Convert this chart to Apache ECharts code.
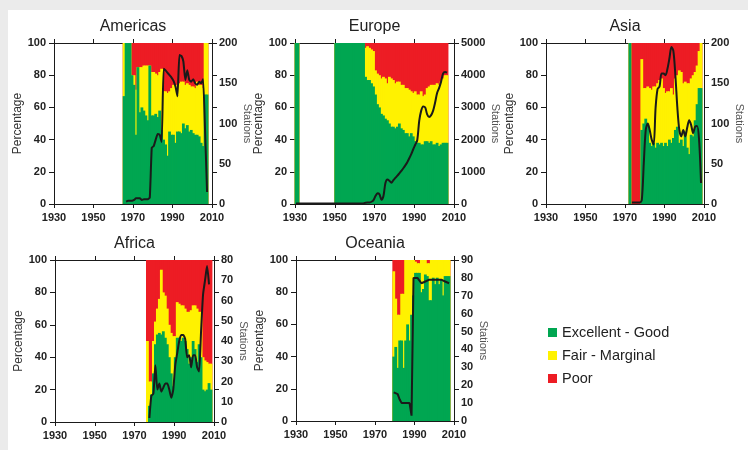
<!DOCTYPE html>
<html><head><meta charset="utf-8">
<script src="https://cdn.jsdelivr.net/npm/echarts@6/dist/echarts.min.js"></script>
<style>html,body{margin:0;padding:0;background:#fff}#c{width:748px;height:450px}</style>
</head><body><div id="c"></div>
<script>
// ---------- DATA ----------
const xTickLabels = [1930, 1950, 1970, 1990, 2010];
const pctTickLabels = [0, 20, 40, 60, 80, 100];
const legendNames = ['Excellent - Good', 'Fair - Marginal', 'Poor'];

// Americas: bars 1965..2007, line 1966..2007, stations axis 0..200 step 50
const americasBarStart = 1965;
const americasGood = [67,100,100,100,80,74,43,85,57,60,58,55,52,86,55,55,56,54,58,46,40,37,30,45,43,43,38,45,45,44,50,47,49,45,46,44,43,43,42,38,36,68,68];
const americasGoodFairTop = [100,100,100,100,80,80,71,85,85,85,86,86,86,86,82,82,81,80,82,84,70,70,69,70,72,74,73,74,75,76,76,74,75,74,73,73,72,76,74,74,72,100,100];
const americasLineStart = 1966;
const americasStations = [3,4,4,4,5,7,7,7,5,6,6,6,8,70,72,80,87,86,77,168,166,163,160,157,153,146,134,185,184,177,154,166,154,152,155,150,148,152,150,155,90,15];
const americasStationTicks = [0, 50, 100, 150, 200];

// Europe: bars 1930..2006 (null = no data), line 1930..2006, axis 0..5000 step 1000
const europeBarStart = 1930;
const europeGood = [100,100,
  null,null,null,null,null,null,null,null,null,null,null,null,null,null,null,null,null,null,
  100,100,100,100,100,100,100,100,100,100,100,100,100,100,100,
  79,77,77,75,73,68,62,60,56,55,53,52,50,48,48,47,48,50,47,46,44,44,42,44,42,39,38,38,37,37,39,39,38,39,37,37,38,36,37,38,38,38];
const europeGoodFairTop = [100,100,
  null,null,null,null,null,null,null,null,null,null,null,null,null,null,null,null,null,null,
  100,100,100,100,100,100,100,100,100,100,100,100,100,100,100,
  97,98,97,96,95,83,81,80,78,79,78,75,79,78,77,75,76,76,74,74,72,72,71,70,69,70,68,68,70,67,68,72,73,74,74,74,75,74,76,78,80,80];
const europeLineStart = 1930;
const europeStations = [15,15,15,15,15,15,15,15,15,15,15,15,15,15,15,15,15,15,15,15,15,15,15,15,15,15,15,15,15,15,15,15,15,15,
  20,40,50,50,70,120,250,330,300,130,250,650,760,720,660,740,810,880,950,1030,1110,1200,1300,1420,1550,1700,1840,1980,2580,2900,3030,3000,2780,2700,2760,2900,3150,3450,3600,3800,4050,4100,4080];
const europeStationTicks = [0, 1000, 2000, 3000, 4000, 5000];

// Asia: bars 1972..2008, line 1973..2008, axis 0..200 step 50
const asiaBarStart = 1972;
const asiaGood = [100,0,0,0,0,0,46,50,53,50,38,36,38,35,38,37,38,36,38,36,40,38,41,46,48,38,40,36,45,35,31,43,42,52,62,72,72];
const asiaGoodFairTop = [100,0,0,0,0,0,90,72,72,73,72,71,73,73,75,77,78,72,69,70,70,72,68,78,80,83,82,75,76,75,75,78,80,82,86,95,100];
const asiaLineStart = 1973;
const asiaStations = [2,2,2,2,2,5,50,92,100,92,80,74,120,143,146,162,162,160,168,181,195,190,160,120,92,84,92,84,95,104,98,88,96,97,80,26];
const asiaStationTicks = [0, 50, 100, 150, 200];

// Africa: bars 1976..2008, line 1977..2007, axis 0..80 step 10
const africaBarStart = 1976;
const africaGood = [0,10,17,30,48,54,55,54,56,52,48,40,30,22,40,52,52,50,52,50,45,36,40,50,45,37,48,40,20,19,20,24,20];
const africaGoodFairTop = [50,25,25,50,62,70,76,94,80,78,70,60,55,53,53,74,73,72,72,70,68,68,69,72,72,70,68,68,40,38,37,36,36];
const africaLineStart = 1977;
const africaStations = [2,13,14,28,16,19,15,17,19,19,16,12,16,28,34,40,43,43,41,32,33,27,33,33,27,25,45,63,70,77,68];
const africaStationTicks = [0, 10, 20, 30, 40, 50, 60, 70, 80];

// Oceania: bars 1979..2007, line 1979..2007, axis 0..90 step 10
const oceaniaBarStart = 1979;
const oceaniaGood = [40,46,33,50,50,33,50,60,50,66,78,92,92,92,80,82,91,90,75,75,89,85,89,85,88,78,90,90,90];
const oceaniaGoodFairTop = [93,76,66,66,79,79,100,100,100,100,100,99,98,98,100,100,100,98,98,100,100,100,100,100,100,100,100,100,100];
const oceaniaLineStart = 1979;
const oceaniaStations = [16,16,15,12,10,9,10,10,10,3,80,80,80,79,77,77,78,79,79,79,79,79,79,79,79,79,78,77,77];
const oceaniaStationTicks = [0, 10, 20, 30, 40, 50, 60, 70, 80, 90];

const regionNames = ['Americas', 'Europe', 'Asia', 'Africa', 'Oceania'];

// ---------- LAYOUT / STYLE ----------
const FONT = '"Liberation Sans", Arial, Helvetica, sans-serif';
const COL = { good: '#00a651', fair: '#fff200', poor: '#ed1c24', axis: '#1a1a1a' };
const layout = [
  { left: 54,  top: 43,  width: 158, height: 161, pctGap: 22, stGap: 27, smooth: 0.15 },
  { left: 295, top: 43,  width: 159, height: 161, pctGap: 21, stGap: 36, smooth: 0.3 },
  { left: 546, top: 43,  width: 158, height: 161, pctGap: 23, stGap: 29, smooth: 0.3 },
  { left: 55,  top: 260, width: 159, height: 162, pctGap: 24, stGap: 21, smooth: 0.2 },
  { left: 296, top: 260, width: 158, height: 161, pctGap: 23, stGap: 20, smooth: false }
];

const regions = [
  { barStart: americasBarStart, good: americasGood, top: americasGoodFairTop, lineStart: americasLineStart, st: americasStations, stTicks: americasStationTicks },
  { barStart: europeBarStart, good: europeGood, top: europeGoodFairTop, lineStart: europeLineStart, st: europeStations, stTicks: europeStationTicks },
  { barStart: asiaBarStart, good: asiaGood, top: asiaGoodFairTop, lineStart: asiaLineStart, st: asiaStations, stTicks: asiaStationTicks },
  { barStart: africaBarStart, good: africaGood, top: africaGoodFairTop, lineStart: africaLineStart, st: africaStations, stTicks: africaStationTicks },
  { barStart: oceaniaBarStart, good: oceaniaGood, top: oceaniaGoodFairTop, lineStart: oceaniaLineStart, st: oceaniaStations, stTicks: oceaniaStationTicks }
];

const axisLine = { show: true, onZero: false, lineStyle: { color: COL.axis, width: 1 } };
const plain = v => String(v);
const boldLabel = { fontFamily: FONT, fontWeight: 'bold', fontSize: 11, color: '#222', formatter: plain };

const option = {
  backgroundColor: '#ffffff',
  animation: false,
  grid: [], xAxis: [], yAxis: [], series: [],
  legend: {
    data: legendNames,
    orient: 'vertical',
    left: 543, top: 320,
    itemWidth: 9, itemHeight: 9, itemGap: 8,
    icon: 'rect',
    selectedMode: false,
    textStyle: { fontFamily: FONT, fontSize: 14.5, color: '#222' }
  },
  graphic: [
    { type: 'rect', shape: { x: 0, y: 0, width: 748, height: 10 }, style: { fill: '#ebebeb' }, silent: true },
    { type: 'rect', shape: { x: 0, y: 0, width: 8, height: 450 }, style: { fill: '#ebebeb' }, silent: true }
  ]
};

const xMin = xTickLabels[0], xMax = xTickLabels[xTickLabels.length - 1], xStep = xTickLabels[1] - xTickLabels[0];

regions.forEach((r, i) => {
  const L = layout[i];
  option.grid.push({ left: L.left, top: L.top, width: L.width, height: L.height });
  option.graphic.push({
    type: 'text', x: L.left + L.width / 2, y: L.top - 16, silent: true,
    style: { text: regionNames[i], fontFamily: FONT, fontSize: 16, fill: '#222', textAlign: 'center', textVerticalAlign: 'middle' }
  });
  option.xAxis.push({
    type: 'value', gridIndex: i, position: 'bottom', min: xMin, max: xMax, interval: xStep,
    axisLine, axisTick: { show: true, length: 4, lineStyle: { color: COL.axis } },
    axisLabel: Object.assign({ margin: 8 }, boldLabel), splitLine: { show: false }
  });
  option.xAxis.push({
    type: 'value', gridIndex: i, position: 'top', min: xMin, max: xMax, interval: xStep,
    axisLine, axisTick: { show: true, length: 4, lineStyle: { color: COL.axis } },
    axisLabel: { show: false }, splitLine: { show: false }
  });
  option.yAxis.push({
    type: 'value', gridIndex: i, position: 'left', min: pctTickLabels[0], max: pctTickLabels[pctTickLabels.length - 1],
    interval: pctTickLabels[1] - pctTickLabels[0],
    name: 'Percentage', nameLocation: 'middle', nameGap: L.pctGap, nameRotate: 90,
    nameTextStyle: { fontFamily: FONT, fontSize: 12, color: '#333' },
    axisLine, axisTick: { show: true, length: 5, lineStyle: { color: COL.axis } },
    axisLabel: Object.assign({ margin: 8 }, boldLabel), splitLine: { show: false }
  });
  const sT = r.stTicks;
  option.yAxis.push({
    type: 'value', gridIndex: i, position: 'right', min: sT[0], max: sT[sT.length - 1], interval: sT[1] - sT[0],
    name: 'Stations', nameLocation: 'middle', nameGap: L.stGap, nameRotate: -90,
    nameTextStyle: { fontFamily: FONT, fontSize: 11, color: '#555' },
    axisLine, axisTick: { show: false },
    axisLabel: Object.assign({ margin: 7 }, boldLabel), splitLine: { show: false }
  });
  option.yAxis.push({
    type: 'value', gridIndex: i, position: 'right', min: 0, max: 100, interval: 20,
    axisLine: { show: false }, axisTick: { show: true, length: 5, lineStyle: { color: COL.axis } },
    axisLabel: { show: false }, splitLine: { show: false }
  });

  // Overlapping bars from 0: red to 100%, yellow to the fair-top, green to the good share
  const poorTop = [], fairTop = [], good = [];
  r.good.forEach((g, k) => {
    if (g == null) return;
    const x = r.barStart + k + 0.5;
    poorTop.push([x, 100]);
    fairTop.push([x, r.top[k]]);
    good.push([x, g]);
  });
  const base = { type: 'bar', xAxisIndex: 2 * i, yAxisIndex: 3 * i, barWidth: 2.8, barGap: '-100%', silent: true };
  option.series.push(Object.assign({ name: legendNames[2], data: poorTop, itemStyle: { color: COL.poor } }, base));
  option.series.push(Object.assign({ name: legendNames[1], data: fairTop, itemStyle: { color: COL.fair } }, base));
  option.series.push(Object.assign({ name: legendNames[0], data: good, itemStyle: { color: COL.good } }, base));
  option.series.push({
    name: 'Stations', type: 'line', xAxisIndex: 2 * i, yAxisIndex: 3 * i + 1, silent: true,
    data: r.st.map((v, k) => [r.lineStart + k + 0.5, v]),
    symbol: 'none', smooth: L.smooth, z: 5,
    lineStyle: { color: '#1a1a1a', width: 2 }
  });
});

const chart = echarts.init(document.getElementById('c'), null, { renderer: 'canvas' });
chart.setOption(option);
</script></body></html>
